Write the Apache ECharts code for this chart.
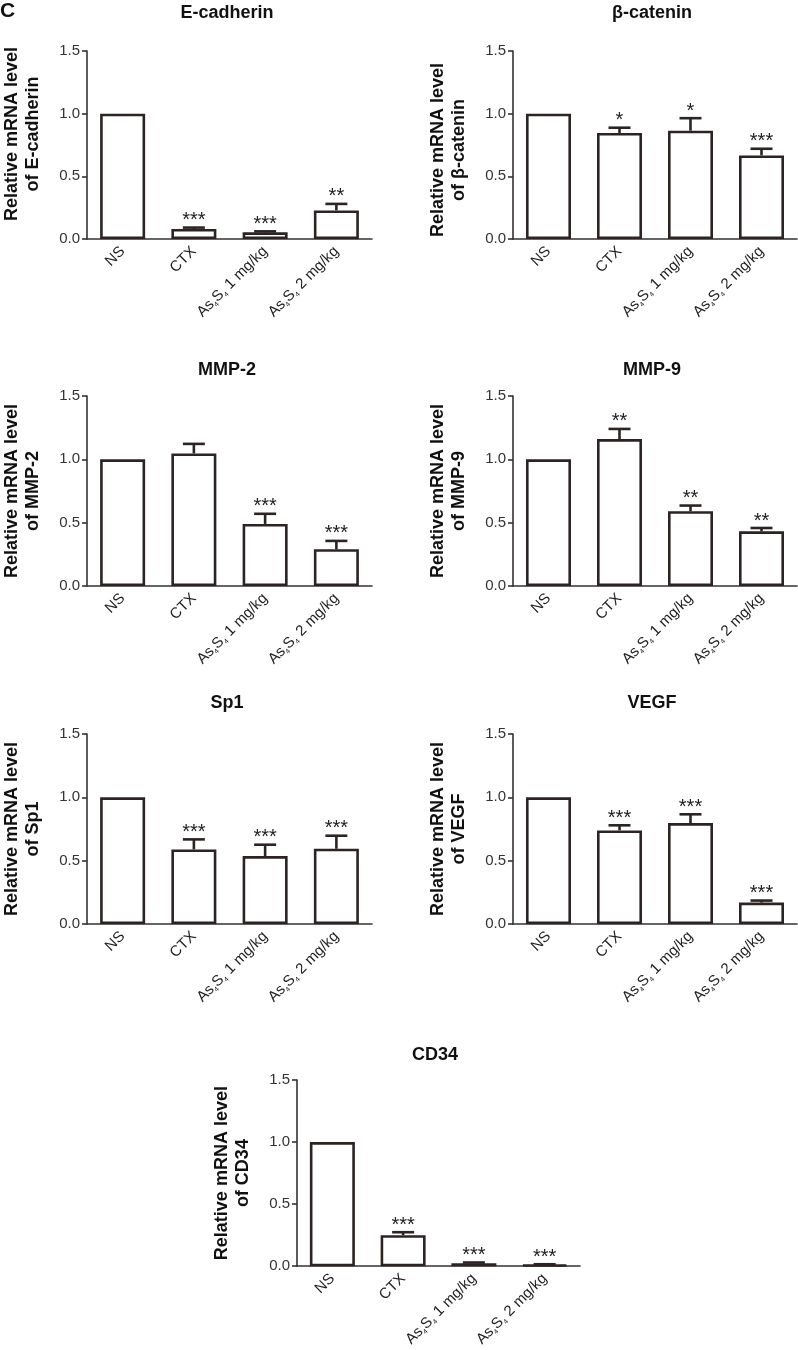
<!DOCTYPE html>
<html><head><meta charset="utf-8">
<script src="https://cdn.jsdelivr.net/npm/echarts@6/dist/echarts.min.js"></script>
<style>html,body{margin:0;padding:0;background:#fff}#c{width:798px;height:1350px}</style>
</head><body><div id="c"></div>
<script>
// ---------- data ----------
const categories = ['NS', 'CTX', 'As4S4 1 mg/kg', 'As4S4 2 mg/kg'];
const yTicks = [0, 0.5, 1.0, 1.5];

const eCadherinMean = [1.0, 0.08, 0.053, 0.228];
const eCadherinErr  = [0, 0.011, 0.008, 0.052];
const eCadherinSig  = ['', '***', '***', '**'];

const bCateninMean = [1.0, 0.846, 0.864, 0.667];
const bCateninErr  = [0, 0.042, 0.10, 0.053];
const bCateninSig  = ['', '*', '*', '***'];

const mmp2Mean = [1.0, 1.047, 0.49, 0.29];
const mmp2Err  = [0, 0.075, 0.08, 0.066];
const mmp2Sig  = ['', '', '***', '***'];

const mmp9Mean = [1.0, 1.16, 0.59, 0.432];
const mmp9Err  = [0, 0.08, 0.045, 0.026];
const mmp9Sig  = ['', '**', '**', '**'];

const sp1Mean = [1.0, 0.589, 0.536, 0.594];
const sp1Err  = [0, 0.079, 0.09, 0.103];
const sp1Sig  = ['', '***', '***', '***'];

const vegfMean = [1.0, 0.739, 0.797, 0.169];
const vegfErr  = [0, 0.04, 0.069, 0.016];
const vegfSig  = ['', '***', '***', '***'];

const cd34Mean = [1.0, 0.25, 0.024, 0.012];
const cd34Err  = [0, 0.024, 0.006, 0.004];
const cd34Sig  = ['', '***', '***', '***'];

// ---------- layout ----------
const FONT = '"Liberation Sans", Arial, Helvetica, sans-serif';
const INK = '#2b2422';
const AXIS = '#333';

const panels = [
  { title: 'E-cadherin', gene: 'E-cadherin', mean: eCadherinMean, err: eCadherinErr, sig: eCadherinSig,
    grid: { left: 87, top: 51, width: 285, height: 188 }, tx: 227, ty: 13, namePad: [0, 0, 0, 22] },
  { title: 'β-catenin', gene: 'β-catenin', mean: bCateninMean, err: bCateninErr, sig: bCateninSig,
    grid: { left: 513, top: 51, width: 284, height: 188 }, tx: 652, ty: 13, namePad: [0, 10, 0, 0] },
  { title: 'MMP-2', gene: 'MMP-2', mean: mmp2Mean, err: mmp2Err, sig: mmp2Sig,
    grid: { left: 87, top: 396, width: 285, height: 190 }, tx: 227, ty: 370, namePad: [0, 0, 0, 0] },
  { title: 'MMP-9', gene: 'MMP-9', mean: mmp9Mean, err: mmp9Err, sig: mmp9Sig,
    grid: { left: 513, top: 396, width: 284, height: 190 }, tx: 652, ty: 370, namePad: [0, 0, 0, 0] },
  { title: 'Sp1', gene: 'Sp1', mean: sp1Mean, err: sp1Err, sig: sp1Sig,
    grid: { left: 87, top: 734, width: 285, height: 190 }, tx: 227, ty: 703, namePad: [0, 0, 0, 0] },
  { title: 'VEGF', gene: 'VEGF', mean: vegfMean, err: vegfErr, sig: vegfSig,
    grid: { left: 513, top: 734, width: 284, height: 190 }, tx: 652, ty: 703, namePad: [0, 0, 0, 0] },
  { title: 'CD34', gene: 'CD34', mean: cd34Mean, err: cd34Err, sig: cd34Sig,
    grid: { left: 297, top: 1080, width: 283, height: 190 }, tx: 435, ty: 1055, namePad: [0, 0, 0, 0] }
];

function xLabel(v) {
  if (v.indexOf('As4S4') === 0) {
    return '{n|As}{s|4}{n|S}{s|4}{n|' + v.slice(5) + '}';
  }
  return '{n|' + v + '}';
}

const grids = [], xAxes = [], yAxes = [], series = [], graphics = [];

graphics.push({ type: 'text', left: 0, top: 1,
  style: { text: 'C', font: 'bold 21px ' + FONT, fill: '#111' } });

panels.forEach((p, k) => {
  grids.push(Object.assign({ containLabel: false }, p.grid));
  xAxes.push({
    type: 'category', gridIndex: k, data: categories,
    axisLine: { lineStyle: { color: AXIS, width: 1.6 } },
    axisTick: { alignWithLabel: true, length: 5, lineStyle: { color: AXIS, width: 1.6 } },
    axisLabel: {
      interval: 0, rotate: 45, margin: 10, formatter: xLabel,
      rich: {
        n: { fontSize: 15, fontFamily: FONT, color: '#222', lineHeight: 17, verticalAlign: 'middle' },
        s: { fontSize: 7, fontFamily: FONT, color: '#222', lineHeight: 8, verticalAlign: 'bottom' }
      }
    },
    splitLine: { show: false }
  });
  yAxes.push({
    type: 'value', gridIndex: k, min: yTicks[0], max: yTicks[yTicks.length - 1], interval: 0.5,
    name: 'Relative mRNA level\nof ' + p.gene,
    nameLocation: 'middle', nameRotate: 90, nameGap: 43,
    nameTextStyle: { fontSize: 18, fontWeight: 'bold', fontFamily: FONT, color: '#111', lineHeight: 21,
      padding: p.namePad },
    axisLine: { show: true, lineStyle: { color: AXIS, width: 1.6 } },
    axisTick: { show: true, length: 5, lineStyle: { color: AXIS, width: 1.6 } },
    axisLabel: { fontSize: 15, fontFamily: FONT, color: '#333', margin: 7,
      formatter: v => v.toFixed(1) },
    splitLine: { show: false }
  });
  series.push({
    type: 'bar', xAxisIndex: k, yAxisIndex: k, data: p.mean, barWidth: 45,
    itemStyle: { color: '#fff', borderColor: INK, borderWidth: 2.6 },
    silent: true, z: 2
  });
  const sigArr = p.sig;
  series.push({
    type: 'custom', xAxisIndex: k, yAxisIndex: k, z: 3, silent: true,
    data: p.mean.map((m, i) => [i, m, p.err[i]]),
    encode: { x: 0, y: 1 },
    renderItem: function (params, api) {
      const i = api.value(0), m = api.value(1), e = api.value(2);
      const base = api.coord([i, m]);
      const top = api.coord([i, m + e]);
      const children = [];
      if (e > 0) {
        children.push({ type: 'line', shape: { x1: base[0], y1: base[1], x2: top[0], y2: top[1] },
          style: { stroke: INK, lineWidth: 2.6 } });
        children.push({ type: 'line', shape: { x1: top[0] - 11, y1: top[1], x2: top[0] + 11, y2: top[1] },
          style: { stroke: INK, lineWidth: 2.6 } });
      }
      const s = sigArr[params.dataIndex];
      if (s) {
        children.push({ type: 'text', x: top[0], y: top[1] + 3,
          style: { text: s, align: 'center', verticalAlign: 'bottom', font: '20px ' + FONT, fill: '#222' } });
      }
      return { type: 'group', children: children };
    }
  });
  graphics.push({ type: 'text', x: p.tx, y: p.ty,
    style: { text: p.title, font: 'bold 18px ' + FONT, fill: '#111', align: 'center', verticalAlign: 'middle' } });
});

const chart = echarts.init(document.getElementById('c'), null, { renderer: 'canvas' });
chart.setOption({
  animation: false,
  backgroundColor: '#fff',
  grid: grids, xAxis: xAxes, yAxis: yAxes, series: series, graphic: graphics
});
</script></body></html>
